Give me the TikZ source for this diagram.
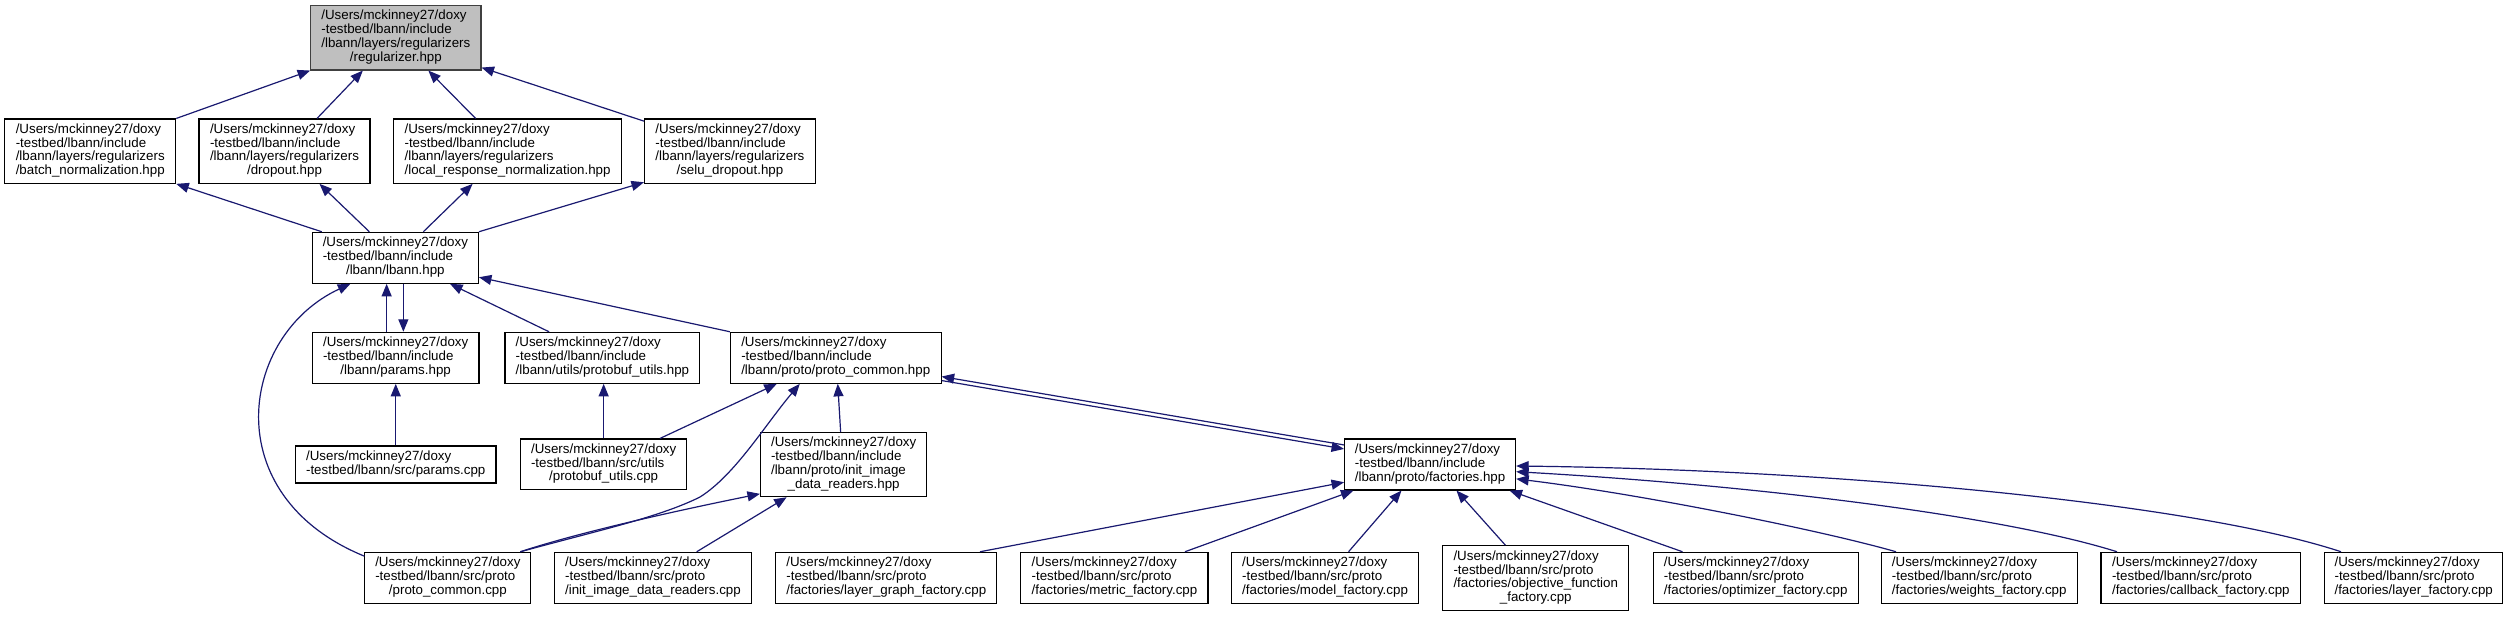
\documentclass[tikz,border=0pt]{standalone}
\usepackage{fontspec}
\setmainfont{Liberation Sans}
\usetikzlibrary{arrows.meta,calc}
\definecolor{edgeblue}{HTML}{191970}
\definecolor{rootfill}{HTML}{BFBFBF}
\definecolor{rootdraw}{HTML}{404040}
\newcommand{\boxtext}[2]{\begin{tabular}{@{}l@{}}#1\\\multicolumn{1}{@{}c@{}}{#2}\end{tabular}}
\begin{document}
\begin{tikzpicture}[x=1pt,y=-1pt,
  filebox/.style={draw=black, line width=1.1pt, fill=white, inner sep=0pt, font=\fontsize{13.33}{13.7}\selectfont},
  rootbox/.style={filebox, fill=rootfill, draw=rootdraw},
  link/.style={draw=edgeblue, line width=1.2pt, -{Triangle[length=12.5pt,width=10pt]}}]
\fill[white] (0,0) rectangle (2510,616);
\useasboundingbox (0,0) rectangle (2510,616);
% row 1
\node[rootbox, minimum width=170.3pt, minimum height=64.3pt] (reg) at (395.85,37.85)
  {\boxtext{/Users/mckinney27/doxy\\-testbed/lbann/include\\/lbann/layers/regularizers}{/regularizer.hpp}};
% row 2
\node[filebox, minimum width=170.9pt, minimum height=64.3pt] (bn) at (90.25,151.15)
  {\boxtext{/Users/mckinney27/doxy\\-testbed/lbann/include\\/lbann/layers/regularizers}{/batch\_normalization.hpp}};
\node[filebox, minimum width=171pt, minimum height=64.3pt] (drop) at (284.5,151.15)
  {\boxtext{/Users/mckinney27/doxy\\-testbed/lbann/include\\/lbann/layers/regularizers}{/dropout.hpp}};
\node[filebox, minimum width=227.6pt, minimum height=64.3pt] (lrn) at (507.6,151.15)
  {\boxtext{/Users/mckinney27/doxy\\-testbed/lbann/include\\/lbann/layers/regularizers}{/local\_response\_normalization.hpp}};
\node[filebox, minimum width=170.9pt, minimum height=64.3pt] (selu) at (729.95,151.15)
  {\boxtext{/Users/mckinney27/doxy\\-testbed/lbann/include\\/lbann/layers/regularizers}{/selu\_dropout.hpp}};
% row 3
\node[filebox, minimum width=166.1pt, minimum height=51pt] (lbann) at (395.35,257.8)
  {\boxtext{/Users/mckinney27/doxy\\-testbed/lbann/include}{/lbann/lbann.hpp}};
% row 4
\node[filebox, minimum width=166.7pt, minimum height=51pt] (params) at (395.65,357.8)
  {\boxtext{/Users/mckinney27/doxy\\-testbed/lbann/include}{/lbann/params.hpp}};
\node[filebox, minimum width=194.8pt, minimum height=51pt] (pbhpp) at (602.4,357.8)
  {\boxtext{/Users/mckinney27/doxy\\-testbed/lbann/include}{/lbann/utils/protobuf\_utils.hpp}};
\node[filebox, minimum width=210.7pt, minimum height=51pt] (pchpp) at (835.75,357.8)
  {\boxtext{/Users/mckinney27/doxy\\-testbed/lbann/include}{/lbann/proto/proto\_common.hpp}};
% row 5
\node[filebox, minimum width=200.5pt, minimum height=37pt] (paramscpp) at (395.75,464.5)
  {\boxtext{/Users/mckinney27/doxy}{-testbed/lbann/src/params.cpp}};
\node[filebox, minimum width=166.3pt, minimum height=50.8pt] (pbcpp) at (603.65,464.4)
  {\boxtext{/Users/mckinney27/doxy\\-testbed/lbann/src/utils}{/protobuf\_utils.cpp}};
\node[filebox, minimum width=166.3pt, minimum height=64pt] (iidrhpp) at (843.65,464.7)
  {\boxtext{/Users/mckinney27/doxy\\-testbed/lbann/include\\/lbann/proto/init\_image}{\_data\_readers.hpp}};
\node[filebox, minimum width=171pt, minimum height=51pt] (fachpp) at (1430.1,464.5)
  {\boxtext{/Users/mckinney27/doxy\\-testbed/lbann/include}{/lbann/proto/factories.hpp}};
% row 6
\node[filebox, minimum width=165.9pt, minimum height=51pt] (pccpp) at (447.85,577.8)
  {\boxtext{/Users/mckinney27/doxy\\-testbed/lbann/src/proto}{/proto\_common.cpp}};
\node[filebox, minimum width=196.5pt, minimum height=51pt] (iidrcpp) at (652.95,577.8)
  {\boxtext{/Users/mckinney27/doxy\\-testbed/lbann/src/proto}{/init\_image\_data\_readers.cpp}};
\node[filebox, minimum width=221pt, minimum height=51pt] (lgf) at (886.3,577.8)
  {\boxtext{/Users/mckinney27/doxy\\-testbed/lbann/src/proto}{/factories/layer\_graph\_factory.cpp}};
\node[filebox, minimum width=187.1pt, minimum height=51pt] (metric) at (1114.45,577.8)
  {\boxtext{/Users/mckinney27/doxy\\-testbed/lbann/src/proto}{/factories/metric\_factory.cpp}};
\node[filebox, minimum width=187.1pt, minimum height=51pt] (model) at (1325.05,577.8)
  {\boxtext{/Users/mckinney27/doxy\\-testbed/lbann/src/proto}{/factories/model\_factory.cpp}};
\node[filebox, minimum width=186.1pt, minimum height=65pt] (objfn) at (1535.75,578.2)
  {\boxtext{/Users/mckinney27/doxy\\-testbed/lbann/src/proto\\/factories/objective\_function}{\_factory.cpp}};
\node[filebox, minimum width=204.8pt, minimum height=51pt] (optimizer) at (1755.7,577.8)
  {\boxtext{/Users/mckinney27/doxy\\-testbed/lbann/src/proto}{/factories/optimizer\_factory.cpp}};
\node[filebox, minimum width=195.8pt, minimum height=51pt] (weights) at (1979.2,577.8)
  {\boxtext{/Users/mckinney27/doxy\\-testbed/lbann/src/proto}{/factories/weights\_factory.cpp}};
\node[filebox, minimum width=199.6pt, minimum height=51pt] (callback) at (2200.8,577.8)
  {\boxtext{/Users/mckinney27/doxy\\-testbed/lbann/src/proto}{/factories/callback\_factory.cpp}};
\node[filebox, minimum width=178.4pt, minimum height=51pt] (layerf) at (2413.7,577.8)
  {\boxtext{/Users/mckinney27/doxy\\-testbed/lbann/src/proto}{/factories/layer\_factory.cpp}};
% edges
\draw[link] (bn.north east) -- (reg.south west);
\draw[link] ([xshift=32.5pt]drop.north) -- ([xshift=-33pt]reg.south);
\draw[link] ([xshift=-32pt]lrn.north) -- ([xshift=32.5pt]reg.south);
\draw[link] ([yshift=-2.7pt]selu.north west) -- ([yshift=3pt]reg.south east);
\draw[link] ([xshift=10pt]lbann.north west) -- (bn.south east);
\draw[link] ([xshift=-26pt]lbann.north) -- ([xshift=35pt]drop.south);
\draw[link] ([xshift=28pt]lbann.north) -- ([xshift=-35pt]lrn.south);
\draw[link] (lbann.north east) -- ([yshift=1.6pt]selu.south west);
\draw[link] ([yshift=-4.4pt]pccpp.north west) .. controls (215,495) and (240,335) .. ([xshift=-45pt]lbann.south);
\draw[link] ([xshift=-9pt]params.north) -- ([xshift=-9pt]params.north |- lbann.south);
\draw[link] ([xshift=8pt]lbann.south) -- ([xshift=8pt]lbann.south |- params.north);
\draw[link] ([xshift=-53.4pt]pbhpp.north) -- ([xshift=54.7pt]lbann.south);
\draw[link] (pchpp.north west) -- ([yshift=6.6pt]lbann.south east);
\draw[link] (paramscpp.north) -- (paramscpp.north |- params.south);
\draw[link] (pbcpp.north) -- (pbcpp.north |- pbhpp.south);
\draw[link] ([xshift=56.3pt]pbcpp.north) -- ([xshift=-59pt]pchpp.south);
\coordinate (bend) at (700,497);
\draw[link] ([xshift=-11pt]pccpp.north east) .. controls (600,530) and (660,517) .. (bend) .. controls (735,475) and (765,425) .. ([xshift=-36pt]pchpp.south);
\draw[link] ([xshift=-11pt]pccpp.north east) .. controls (580,532) and (680,510) .. ([yshift=3.4pt]iidrhpp.south west);
\draw[link] ([xshift=43.75pt]iidrcpp.north) -- ([xshift=-57pt]iidrhpp.south);
\draw[link] ([xshift=-3pt]iidrhpp.north) -- ([xshift=2pt]pchpp.south);
\draw[link] ([yshift=-6.5pt]fachpp.north west) -- ([yshift=7.3pt]pchpp.south east);
\draw[link] ([yshift=3.3pt]pchpp.south east) -- ([yshift=-10.5pt]fachpp.north west);
\draw[link] ([xshift=93.7pt]lgf.north) -- ([yshift=8.3pt]fachpp.south west);
\draw[link] ([xshift=70.5pt]metric.north) -- ([xshift=9.4pt]fachpp.south west);
\draw[link] ([xshift=23.5pt]model.north) -- ([xshift=-28.7pt]fachpp.south);
\draw[link] ([xshift=-30.4pt]objfn.north) -- ([xshift=26.4pt]fachpp.south);
\draw[link] ([xshift=-73.2pt]optimizer.north) -- ([xshift=-6.6pt]fachpp.south east);
\draw[link] ([xshift=-83.2pt]weights.north) .. controls (1820,530) and (1640,494) .. ([yshift=11.7pt]fachpp.south east);
\draw[link] ([xshift=-83.8pt]callback.north) .. controls (2000,515) and (1750,485) .. ([yshift=-7.2pt]fachpp.east);
\draw[link] ([xshift=-72.7pt]layerf.north) .. controls (2200,505) and (1850,470) .. ([yshift=-1.5pt]fachpp.east);
\end{tikzpicture}
\end{document}
